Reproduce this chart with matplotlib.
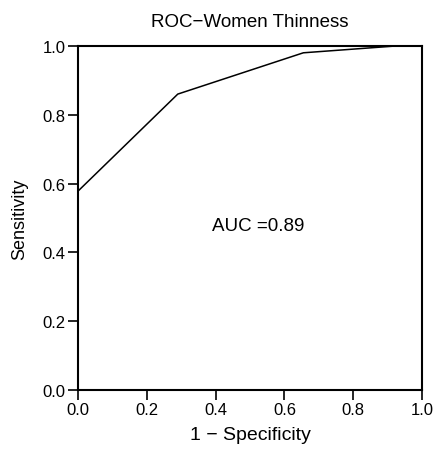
import matplotlib
matplotlib.use("Agg")
import matplotlib.pyplot as plt

plt.rcParams['font.family'] = ['Liberation Sans', 'DejaVu Sans']

# ROC curve points
fpr = [0.0, 0.29, 0.655, 0.926, 1.0]
tpr = [0.578, 0.86, 0.98, 1.0, 1.0]
auc_value = 0.89
ticks = [0.0, 0.2, 0.4, 0.6, 0.8, 1.0]

fig = plt.figure(figsize=(4.42, 4.6), dpi=100)
ax = fig.add_axes([0.1765, 0.15, 0.7783, 0.748])

ax.plot(fpr, tpr, color='black', linewidth=1.1)
ax.set_xlim(0, 1)
ax.set_ylim(0, 1)
ax.set_xticks(ticks)
ax.set_yticks(ticks)
ax.set_xticklabels([f"{t:.1f}" for t in ticks])
ax.set_yticklabels([f"{t:.1f}" for t in ticks])
ax.tick_params(direction='out', length=7, width=1.2, labelsize=12, pad=2)
for s in ax.spines.values():
    s.set_linewidth(1.5)

ax.text(0.523, 0.477, f"AUC ={auc_value}", ha='center', va='center', fontsize=13.5)
ax.set_xlabel("1 − Specificity", fontsize=14, labelpad=6)
ax.set_ylabel("Sensitivity", fontsize=13, labelpad=10)
ax.set_title("ROC−Women Thinness", fontsize=13.5, pad=14)

fig.savefig("out.png", dpi=100)
